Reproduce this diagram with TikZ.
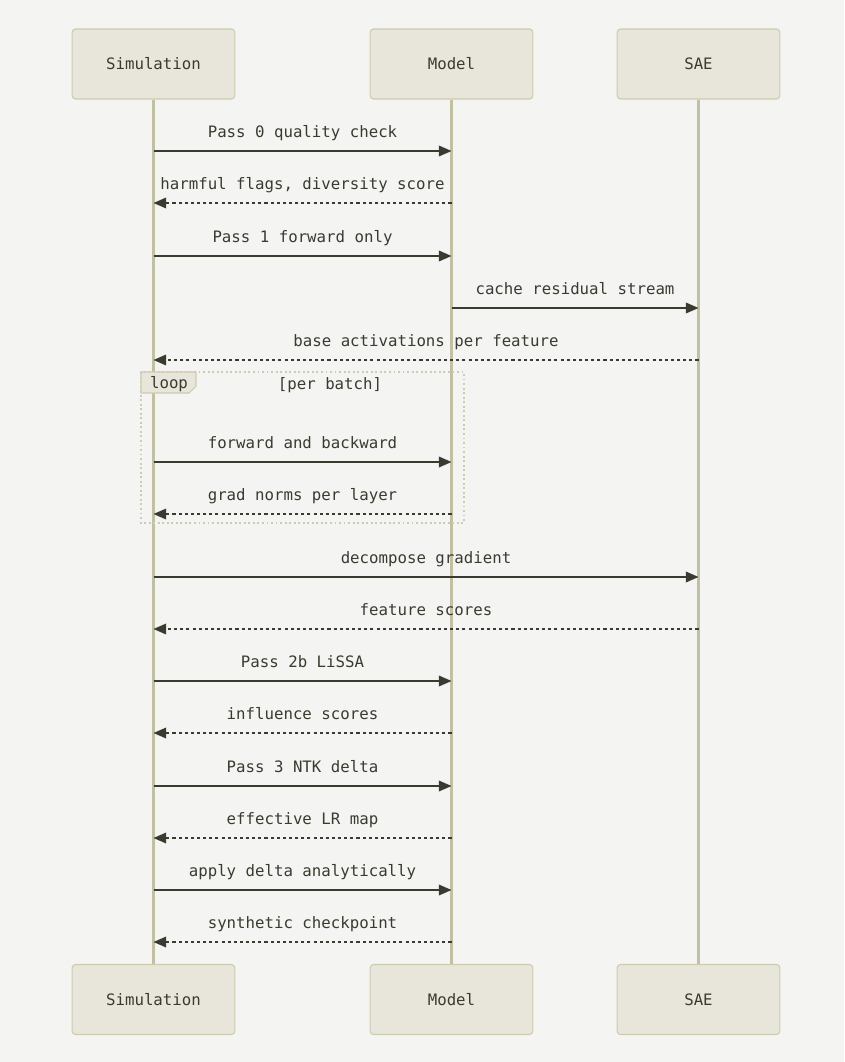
\documentclass[tikz,border=0pt]{standalone}
\usepackage{fontspec}
\setmonofont{DejaVu Sans Mono}
\usepackage{tikz}
\usetikzlibrary{positioning, calc, arrows.meta, shapes}
\definecolor{bgcol}{HTML}{F4F4F2}
\definecolor{actorfill}{HTML}{E8E6DA}
\definecolor{actorline}{HTML}{CDCBB0}
\definecolor{lifecol}{HTML}{C2C0A3}
\definecolor{msgcol}{HTML}{3A3A30}
\tikzset{>={Triangle[length=9.5pt,width=8pt]}}
\tikzset{
  actor/.style={draw=actorline, fill=actorfill, rounded corners=2.5pt, line width=0.8pt,
    minimum width=122pt, minimum height=52.5pt, text=msgcol,
    font=\ttfamily\fontsize{11.8}{13}\selectfont},
  life/.style={draw=lifecol, line width=1.6pt},
  call/.style={->, draw=msgcol, line width=1.1pt},
  reply/.style={call, dash pattern=on 2.3pt off 2.3pt},
  msgtext/.style={midway, anchor=base, yshift=10pt, inner sep=0pt, text=msgcol,
    font=\ttfamily\fontsize{11.8}{13}\selectfont},
  loopframe/.style={draw=actorline, line width=1.4pt, dash pattern=on 1.4pt off 2pt}
}

\begin{document}
\begin{tikzpicture}[x=0.75pt, y=-0.75pt]
    \fill[bgcol] (0,0) rectangle (844,1062);

    \node[actor] (simtop) at (153.5,64) {Simulation};
    \node[actor] (modtop) at (451.5,64) {Model};
    \node[actor] (saetop) at (698.5,64) {SAE};
    \node[actor] (simbot) at (153.5,999.5) {Simulation};
    \node[actor] (modbot) at (451.5,999.5) {Model};
    \node[actor] (saebot) at (698.5,999.5) {SAE};

    \draw[life] (simtop.south) -- (simbot.north);
    \draw[life] (modtop.south) -- (modbot.north);
    \draw[life] (saetop.south) -- (saebot.north);

    % message rows
    \coordinate (r1) at (0,151);
    \coordinate (r2) at (0,203);
    \coordinate (r3) at (0,256);
    \coordinate (r4) at (0,308);
    \coordinate (r5) at (0,360);
    \coordinate (r6) at (0,462);
    \coordinate (r7) at (0,514);
    \coordinate (r8) at (0,577);
    \coordinate (r9) at (0,629);
    \coordinate (r10) at (0,681);
    \coordinate (r11) at (0,733);
    \coordinate (r12) at (0,786);
    \coordinate (r13) at (0,838);
    \coordinate (r14) at (0,890);
    \coordinate (r15) at (0,942);

    % loop frame
    \coordinate (loopnw) at (141,372);
    \coordinate (loopse) at (464,523);
    \draw[loopframe] (loopnw) rectangle (loopse);
    \filldraw[fill=actorfill, draw=actorline, line width=0.8pt]
      (loopnw) -- ++(55,0) -- ++(0,14) -- ++(-7,7) -- ++(-48,0) -- cycle;
    \node[text=msgcol, font=\ttfamily\fontsize{11.8}{13}\selectfont] (looptag) at (169,384) {loop};
    \node[text=msgcol, font=\ttfamily\fontsize{11.8}{13}\selectfont] (loopcond) at (330,385) {[per batch]};

    \draw[call] (simtop |- r1) -- node[msgtext] {Pass 0 quality check} (modtop |- r1);
    \draw[reply] (modtop |- r2) -- node[msgtext] {harmful flags, diversity score} (simtop |- r2);
    \draw[call] (simtop |- r3) -- node[msgtext] {Pass 1 forward only} (modtop |- r3);
    \draw[call] (modtop |- r4) -- node[msgtext] {cache residual stream} (saetop |- r4);
    \draw[reply] (saetop |- r5) -- node[msgtext] {base activations per feature} (simtop |- r5);
    \draw[call] (simtop |- r6) -- node[msgtext] {forward and backward} (modtop |- r6);
    \draw[reply] (modtop |- r7) -- node[msgtext] {grad norms per layer} (simtop |- r7);
    \draw[call] (simtop |- r8) -- node[msgtext] {decompose gradient} (saetop |- r8);
    \draw[reply] (saetop |- r9) -- node[msgtext] {feature scores} (simtop |- r9);
    \draw[call] (simtop |- r10) -- node[msgtext] {Pass 2b LiSSA} (modtop |- r10);
    \draw[reply] (modtop |- r11) -- node[msgtext] {influence scores} (simtop |- r11);
    \draw[call] (simtop |- r12) -- node[msgtext] {Pass 3 NTK delta} (modtop |- r12);
    \draw[reply] (modtop |- r13) -- node[msgtext] {effective LR map} (simtop |- r13);
    \draw[call] (simtop |- r14) -- node[msgtext] {apply delta analytically} (modtop |- r14);
    \draw[reply] (modtop |- r15) -- node[msgtext] {synthetic checkpoint} (simtop |- r15);
\end{tikzpicture}
\end{document}
